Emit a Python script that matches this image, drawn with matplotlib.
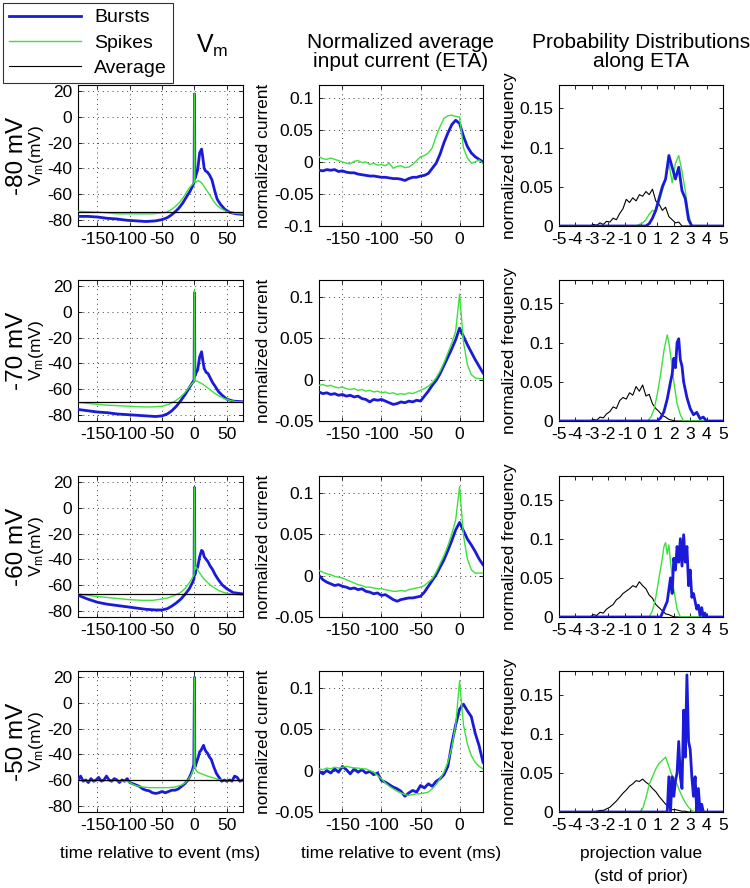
import matplotlib
matplotlib.use('Agg')
import matplotlib.pyplot as plt
from matplotlib.lines import Line2D

plt.rcParams['font.family'] = ['Liberation Sans', 'DejaVu Sans']
plt.rcParams['axes.unicode_minus'] = False
plt.rcParams['mathtext.fontset'] = 'custom'
plt.rcParams['mathtext.rm'] = 'Liberation Sans'
plt.rcParams['mathtext.it'] = 'Liberation Sans:italic'

BLUE = '#1a1ad8'
GREEN = '#3ee03e'

row_labels = ['-80 mV', '-70 mV', '-60 mV', '-50 mV']
avg_level = [-74, -70, -67, -60]

# ---------------- Vm (membrane potential) ----------------
vm_t_b80 = [-180,-165,-150,-135,-120,-105,-90,-75,-60,-50,-42,-36,-30,-24,-18,-12,-7,-3,-0.6,0,
            0.6,2,5,8,11,13,15,17,20,23,27,31,35,40,47,55,65,75]
vm_b80 = [-77.5,-77.5,-78,-79,-79.5,-80.5,-81,-81.5,-81,-80,-78.5,-76.5,-74,-71,-67,-62,-58,-54,-51,18,
          -48,-46,-41,-28,-25,-32,-40,-42,-43,-45,-49,-57,-64,-68,-72,-74.5,-75.5,-76]
vm_t_s80 = [-180,-160,-140,-120,-100,-80,-65,-55,-45,-38,-30,-22,-15,-9,-4,-0.6,0,0.6,2,4,
            6,9,12,16,20,25,30,35,40,50,60,75]
vm_s80 = [-73.5,-74,-74.5,-75.5,-75.5,-75.5,-75.5,-75,-74.5,-73,-70,-66,-61,-56,-53,-51,18,-50,-51,-50,
          -49.5,-50.5,-52,-55,-58,-62,-66,-69,-71,-74,-75,-75.5]

vm_t_b70 = [-180,-165,-150,-135,-120,-105,-90,-75,-60,-50,-42,-35,-28,-21,-14,-8,-3,-0.6,0,0.6,
            2,5,8,11,13,15,18,21,24,28,32,37,43,50,60,75]
vm_b70 = [-76,-77,-78,-78.5,-79.5,-80,-80.5,-81,-81.5,-81,-79.5,-77,-73.5,-69,-64,-59,-55,-53,15,-50,
          -48,-45,-35,-31,-38,-44,-47,-48,-51,-55,-58,-62,-65,-68,-69.5,-70]
vm_t_s70 = [-180,-160,-140,-120,-100,-80,-65,-50,-40,-30,-22,-15,-9,-4,-0.6,0,0.6,2,5,8,
            12,16,20,25,30,38,46,55,65,75]
vm_s70 = [-70.5,-71.5,-72.5,-73,-73.5,-74,-74,-73.5,-72,-69.5,-66.5,-63,-59,-56,-54,17,-53,-54,-54,-55,
          -56,-57.5,-59,-61,-63,-65.5,-67.5,-69,-70,-70]

vm_t_b60 = [-180,-165,-150,-135,-120,-105,-90,-75,-60,-50,-42,-35,-28,-21,-14,-8,-3,-0.6,0,0.6,
            2,5,8,11,13,15,18,21,24,28,32,37,43,50,60,75]
vm_b60 = [-68,-71,-73.5,-75,-76,-77,-78,-79,-79.5,-79.5,-78.5,-76.5,-74,-71,-67,-63,-58,-55,16,-52,
          -49,-46,-38,-33,-34,-38,-40,-42,-45,-48,-52,-56,-60,-63,-66,-67]
vm_t_s60 = [-180,-160,-140,-120,-100,-80,-65,-50,-40,-30,-22,-15,-9,-4,-0.6,0,0.6,2,4,7,
            10,14,18,24,30,38,46,55,65,75]
vm_s60 = [-67,-68.5,-69.5,-70.5,-71.5,-72,-72,-71,-70,-68,-66,-63,-59,-55,-52,16,-48,-46,-47,-50,
          -52,-55,-57,-60,-62,-64.5,-66,-67,-67.5,-68]

vm_t_b50 = [-180,-176,-172,-168,-164,-160,-156,-152,-148,-144,-140,-136,-132,-128,-124,-120,-116,-112,-108,-104,
            -100,-95,-90,-85,-80,-75,-70,-65,-60,-55,-50,-45,-40,-35,-30,-25,-20,-15,-10,-6,
            -3,-1,0,0.5,2,4,6,8,10,12,14,16,18,20,23,26,30,34,38,42,
            46,50,54,58,62,66,70,75]
vm_b50 = [-60,-57,-61,-60,-62,-59,-61,-60,-58,-61,-60,-57,-60,-61,-59,-60,-62,-60,-61,-59,
          -62,-63,-64,-65,-67,-68,-68.5,-70,-70.5,-70,-69,-70,-69,-68,-68,-67,-65,-63,-60,-56,
          -52,-48,20,-50,-48,-45,-42,-38,-37,-35,-33,-36,-38,-39,-42,-44,-50,-55,-58,-61,
          -60,-61,-60,-61,-57,-58,-61,-60]
vm_t_s50 = [-180,-150,-120,-105,-100,-95,-90,-80,-70,-60,-50,-40,-30,-20,-15,-10,-5,-2,-0.6,0,
            0.6,2,5,10,15,20,30,40,50,75]
vm_s50 = [-60.5,-60.5,-60.5,-61,-62,-63.5,-64.5,-65.5,-66,-66,-66,-66,-65.5,-64,-62.5,-60,-56,-52,-50,20,
          -47,-52,-54,-55,-56,-57,-58.5,-60,-60.5,-60.5]

# ---------------- normalized input current (ETA) ----------------
eta_t = [-180,-175,-170,-165,-160,-155,-150,-145,-140,-135,-130,-125,-120,-115,-110,-105,-100,-95,-90,-85,
         -80,-75,-70,-65,-60,-55,-50,-45,-40,-35,-30,-25,-20,-15,-10,-5,0,5,10,15,20,25,30]
eta_s80 = [.008,.005,.004,.006,.004,.002,.0,-.002,-.003,.001,.002,-.001,0,-.004,-.002,-.005,-.004,-.006,-.002,-.01,
           -.007,-.006,-.009,-.008,-.004,.002,.008,.01,.014,.022,.04,.055,.068,.072,.073,.071,.07,.022,.006,-.002,
           0,.003,-.003]
eta_b80 = [-.013,-.014,-.012,-.013,-.012,-.015,-.014,-.016,-.017,-.017,-.019,-.02,-.021,-.022,-.022,-.023,-.024,-.024,-.025,-.026,
           -.026,-.027,-.029,-.026,-.024,-.024,-.022,-.021,-.018,-.01,-.002,.012,.03,.045,.058,.065,.06,.04,.024,.014,
           .008,.004,0]
eta_s70 = [-.007,-.006,-.008,-.007,-.009,-.01,-.009,-.011,-.012,-.011,-.013,-.012,-.014,-.013,-.015,-.014,-.016,-.015,-.017,-.016,
           -.018,-.017,-.018,-.016,-.017,-.015,-.013,-.011,-.008,-.004,.002,.01,.02,.032,.044,.058,.103,.045,.018,.006,
           .002,.001,.001]
eta_b70 = [-.015,-.017,-.016,-.018,-.017,-.019,-.018,-.02,-.019,-.021,-.02,-.023,-.024,-.027,-.024,-.025,-.024,-.026,-.028,-.03,
           -.029,-.027,-.028,-.026,-.027,-.025,-.026,-.02,-.014,-.007,-.001,.007,.017,.027,.037,.048,.062,.052,.042,.033,
           .024,.016,.008]
eta_s60 = [.006,.004,.002,.001,-.001,-.002,-.003,-.005,-.007,-.009,-.011,-.012,-.014,-.014,-.015,-.016,-.016,-.017,-.018,-.019,
           -.019,-.018,-.019,-.017,-.016,-.015,-.014,-.012,-.008,-.004,.004,.014,.024,.036,.05,.067,.107,.048,.02,.007,
           .003,.003,.003]
eta_b60 = [0,-.005,-.008,-.01,-.012,-.011,-.013,-.014,-.016,-.015,-.017,-.016,-.019,-.02,-.022,-.021,-.024,-.023,-.026,-.029,
           -.031,-.029,-.028,-.027,-.027,-.026,-.025,-.02,-.013,-.006,.001,.01,.019,.03,.042,.055,.064,.054,.044,.037,
           .029,.02,.013]
eta_s50 = [.002,.001,.003,.002,.004,.003,.004,.005,.004,.003,.003,.002,.002,0,-.002,-.006,-.01,-.015,-.019,-.022,
           -.025,-.027,-.029,-.03,-.029,-.028,-.028,-.027,-.026,-.022,-.017,-.01,-.002,.01,.028,.055,.108,.055,.032,.018,
           .01,.005,.002]
eta_b50 = [-.001,-.004,0,-.003,.002,-.002,.005,.001,-.004,.002,-.002,.001,-.003,-.001,-.005,-.003,-.012,-.014,-.017,-.02,
           -.022,-.025,-.031,-.027,-.024,-.026,-.018,-.021,-.016,-.019,-.013,-.01,-.005,.005,.032,.055,.074,.08,.072,.065,
           .045,.03,.01]

# ---------------- probability distributions along ETA ----------------
pa80_x = [-5,-3.1,-2.9,-2.7,-2.5,-2.3,-2.1,-1.9,-1.7,-1.5,-1.3,-1.1,-0.9,-0.7,-0.5,-0.3,-0.1,0.1,0.3,0.5,
          0.7,0.9,1.1,1.3,1.5,1.7,1.9,2.1,2.3,2.5,5]
pa80_y = [0,0,.002,.001,.004,.002,.006,.005,.01,.008,.016,.022,.034,.03,.036,.032,.04,.038,.044,.04,
          .047,.032,.028,.02,.024,.012,.008,.004,.005,0,0]
pg80_x = [-5,-0.3,-0.1,0.1,0.3,0.5,0.7,0.9,1.1,1.3,1.5,1.7,1.9,2.1,2.3,2.5,2.7,2.9,3.1,5]
pg80_y = [0,0,.002,.004,.008,.015,.02,.018,.03,.045,.06,.08,.055,.08,.09,.07,.045,.015,0,0]
pb80_x = [-5,0.3,0.5,0.7,0.9,1.1,1.3,1.5,1.7,1.9,2.1,2.3,2.5,2.7,2.9,3.1,5]
pb80_y = [0,0,.003,.01,.02,.035,.05,.06,.09,.075,.06,.075,.045,.035,.008,0,0]

pa70_x = [-5,-3.1,-2.9,-2.7,-2.5,-2.3,-2.1,-1.9,-1.7,-1.5,-1.3,-1.1,-0.9,-0.7,-0.5,-0.3,-0.1,0.1,0.3,0.5,
          0.7,0.9,1.1,1.3,1.5,1.7,1.9,2.1,5]
pa70_y = [0,0,.002,.001,.005,.004,.009,.012,.018,.016,.026,.03,.028,.036,.033,.044,.038,.046,.032,.034,
          .022,.016,.012,.007,.005,.002,.001,0,0]
pg70_x = [-5,0.4,0.6,0.8,1.0,1.2,1.4,1.6,1.7,1.8,2.0,2.2,2.4,2.6,5]
pg70_y = [0,0,.005,.015,.035,.06,.09,.11,.1,.085,.05,.022,.008,0,0]
pb70_x = [-5,1.0,1.2,1.4,1.6,1.8,1.9,2.0,2.1,2.2,2.3,2.4,2.5,2.6,2.8,3.0,3.2,3.4,3.6,3.8,4.0,5]
pb70_y = [0,0,.004,.012,.028,.05,.06,.08,.068,.1,.105,.078,.07,.05,.03,.016,.008,.011,.003,.005,0,0]

pa60_x = [-5,-3.1,-2.9,-2.7,-2.5,-2.3,-2.1,-1.9,-1.7,-1.5,-1.3,-1.1,-0.9,-0.7,-0.5,-0.3,-0.1,0.1,0.3,0.5,
          0.7,0.9,1.1,1.3,1.5,1.7,1.9,2.1,5]
pa60_y = [0,0,.003,.002,.006,.005,.01,.013,.016,.022,.025,.03,.033,.036,.04,.038,.045,.04,.036,.028,
          .024,.016,.012,.008,.004,.003,.001,0,0]
pg60_x = [-5,0.5,0.7,0.9,1.1,1.3,1.4,1.5,1.6,1.7,1.8,2.0,2.2,2.4,5]
pg60_y = [0,0,.008,.025,.05,.075,.09,.095,.08,.092,.07,.035,.01,0,0]
pb60_x = [-5,1.2,1.4,1.6,1.8,1.9,2.0,2.1,2.2,2.3,2.4,2.5,2.6,2.7,2.8,2.9,3.0,3.1,3.2,3.4,
          3.5,3.6,3.7,3.8,3.9,4.0,5]
pb60_y = [0,0,.01,.02,.05,.03,.075,.06,.09,.07,.1,.065,.105,.07,.09,.04,.06,.025,.03,.01,
          .015,.002,.012,0,.005,0,0]

pa50_x = [-5,-2.9,-2.7,-2.5,-2.3,-2.1,-1.9,-1.7,-1.5,-1.3,-1.1,-0.9,-0.7,-0.5,-0.3,-0.1,0.1,0.3,0.5,0.7,
          0.9,1.1,1.3,1.5,1.7,1.9,2.1,2.3,2.5,2.7,2.9,5]
pa50_y = [0,0,.001,.002,.002,.004,.006,.01,.014,.019,.024,.028,.033,.036,.04,.039,.042,.038,.035,.03,
          .026,.02,.015,.01,.006,.003,.003,.002,.001,.001,0,0]
pg50_x = [-5,-0.1,0.1,0.3,0.5,0.7,0.9,1.1,1.3,1.5,1.7,1.9,2.1,2.3,2.5,2.7,2.9,3.1,3.3,5]
pg50_y = [0,0,.004,.018,.035,.045,.055,.062,.066,.07,.058,.046,.04,.03,.02,.012,.006,.002,0,0]
pb50_x = [-5,1.6,1.7,1.8,1.9,2.0,2.1,2.2,2.3,2.4,2.5,2.6,2.7,2.8,2.9,3.0,3.1,3.2,3.3,3.4,
          3.5,3.6,3.7,3.8,5]
pb50_y = [0,0,.045,0,.045,.02,.04,.05,.09,.045,.03,.13,.07,.175,.09,.08,.045,.02,.045,0,
          .03,0,.01,0,0]

vm_ticks = [-80, -60, -40, -20, 0, 20]
t_ticks = [-150, -100, -50, 0, 50]
eta_ticks_wide = [-0.1, -0.05, 0, 0.05, 0.1]
eta_ticks = [-0.05, 0, 0.05, 0.1]
eta_ticklabels = {-0.1: '-0.1', -0.05: '-0.05', 0: '0', 0.05: '0.05', 0.1: '0.1'}
eta_tticks = [-150, -100, -50, 0]
p_xticks = [-5, -4, -3, -2, -1, 0, 1, 2, 3, 4, 5]
p_yticks = [0, 0.05, 0.1, 0.15]
p_yticklabels = ['0', '0.05', '0.1', '0.15']

vm_data = [((vm_t_b80, vm_b80), (vm_t_s80, vm_s80)),
           ((vm_t_b70, vm_b70), (vm_t_s70, vm_s70)),
           ((vm_t_b60, vm_b60), (vm_t_s60, vm_s60)),
           ((vm_t_b50, vm_b50), (vm_t_s50, vm_s50))]
eta_data = [(eta_b80, eta_s80), (eta_b70, eta_s70), (eta_b60, eta_s60), (eta_b50, eta_s50)]
p_data = [((pa80_x, pa80_y), (pg80_x, pg80_y), (pb80_x, pb80_y)),
          ((pa70_x, pa70_y), (pg70_x, pg70_y), (pb70_x, pb70_y)),
          ((pa60_x, pa60_y), (pg60_x, pg60_y), (pb60_x, pb60_y)),
          ((pa50_x, pa50_y), (pg50_x, pg50_y), (pb50_x, pb50_y))]

W, H = 750.0, 888.0
fig = plt.figure(figsize=(W / 100, H / 100), dpi=100)

col_left = [78, 319, 559]
col_w = [165, 164, 164]
row_top = [85, 280, 476, 671]
row_h = 141
FS = 12.5


def add_ax(c, r):
    return fig.add_axes([col_left[c] / W, 1 - (row_top[r] + row_h) / H, col_w[c] / W, row_h / H])


def style(ax, grid=True):
    ax.tick_params(direction='in', top=True, right=True, length=3, width=0.6, labelsize=FS, pad=4)
    for s in ax.spines.values():
        s.set_linewidth(0.8)
    if grid:
        ax.grid(True, linestyle=(0, (1, 4)), color='0.25', linewidth=0.7)


for r in range(4):
    # column 1 : Vm
    ax = add_ax(0, r)
    (tb, vb), (ts, vs) = vm_data[r]
    ax.plot(tb, vb, color=BLUE, lw=2.0, zorder=3)
    ax.plot(ts, vs, color=GREEN, lw=1.0, zorder=4)
    ax.axhline(avg_level[r], color='k', lw=0.9, zorder=5)
    ax.set_xlim(-180, 75)
    ax.set_ylim(-85, 25)
    ax.set_xticks(t_ticks)
    ax.set_yticks(vm_ticks)
    style(ax)
    ax.set_ylabel('V$_\\mathrm{m}$(mV)', fontsize=FS, labelpad=1)
    if r == 3:
        ax.set_xlabel('time relative to event (ms)', fontsize=FS, labelpad=10)
    yc = 1 - (row_top[r] + row_h / 2) / H
    fig.text(17 / W, yc, row_labels[r], rotation=90, fontsize=17.5, ha='center', va='center')

    # column 2 : ETA
    ax = add_ax(1, r)
    eb, es = eta_data[r]
    ax.plot(eta_t, eb, color=BLUE, lw=2.0, zorder=3)
    ax.plot(eta_t, es, color=GREEN, lw=1.0, zorder=4)
    ax.set_xlim(-180, 30)
    ticks = eta_ticks_wide if r == 0 else eta_ticks
    ax.set_ylim(ticks[0], 0.12)
    ax.set_yticks(ticks)
    ax.set_yticklabels([eta_ticklabels[v] for v in ticks])
    ax.set_xticks(eta_tticks)
    style(ax)
    ax.set_ylabel('normalized current', fontsize=FS, labelpad=2)
    if r == 3:
        ax.set_xlabel('time relative to event (ms)', fontsize=FS, labelpad=10)

    # column 3 : distributions
    ax = add_ax(2, r)
    (ax_, ay_), (gx, gy), (bx, by) = p_data[r]
    ax.plot(ax_, ay_, color='k', lw=0.8, zorder=3)
    ax.plot(gx, gy, color=GREEN, lw=1.0, zorder=4)
    ax.plot(bx, by, color=BLUE, lw=2.0, zorder=5)
    ax.set_xlim(-5, 5)
    ax.set_ylim(0, 0.18)
    ax.set_xticks(p_xticks)
    ax.set_yticks(p_yticks)
    ax.set_yticklabels(p_yticklabels)
    style(ax, grid=False)
    ax.set_ylabel('normalized frequency', fontsize=FS, labelpad=2)
    if r == 3:
        ax.set_xlabel('projection value\n(std of prior)', fontsize=FS, labelpad=10, linespacing=1.6)

# column titles
fig.text(212 / W, 1 - 46 / H, 'V$_\\mathrm{m}$', fontsize=18, ha='center', va='center')
fig.text(401 / W, 1 - 52 / H, 'Normalized average\ninput current (ETA)', fontsize=15,
         ha='center', va='center', linespacing=1.0)
fig.text(641 / W, 1 - 52 / H, 'Probability Distributions\nalong ETA', fontsize=15,
         ha='center', va='center', linespacing=1.0)

handles = [Line2D([], [], color=BLUE, lw=2.0), Line2D([], [], color=GREEN, lw=1.0),
           Line2D([], [], color='k', lw=0.8)]
leg = fig.legend(handles, ['Bursts', 'Spikes', 'Average'], loc='upper left',
                 bbox_to_anchor=(3 / W, 1 - 3 / H), frameon=True, fancybox=False,
                 edgecolor='k', fontsize=14, handlelength=3.7, borderpad=0.3,
                 labelspacing=0.4, handletextpad=0.7, borderaxespad=0)
leg.get_frame().set_linewidth(0.8)

fig.savefig('out.png', dpi=100)
